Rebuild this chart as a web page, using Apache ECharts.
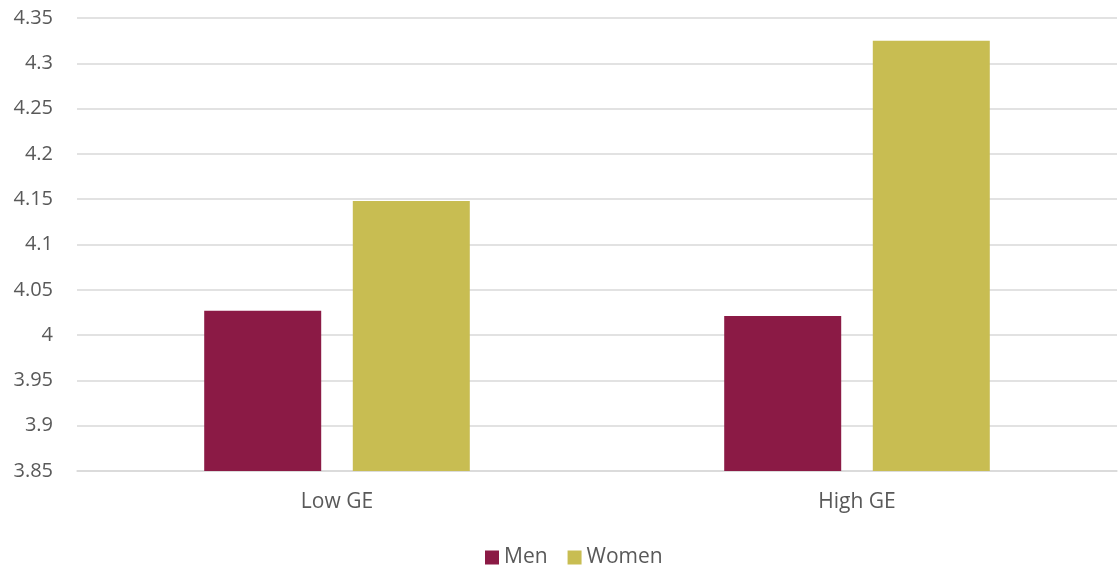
<!DOCTYPE html>
<html>
<head>
<meta charset="utf-8">
<script src="https://cdn.jsdelivr.net/npm/echarts@6/dist/echarts.min.js"></script>
<style>
  html, body { margin: 0; padding: 0; background: #fff; }
  #main { width: 1119px; height: 569px; }
</style>
</head>
<body>
<div id="main"></div>
<script>
const categories = ["Low GE", "High GE"];
const menValues = [4.027, 4.021];
const womenValues = [4.148, 4.325];

const chart = echarts.init(document.getElementById("main"), null, { renderer: "canvas" });

const option = {
  animation: false,
  textStyle: { fontFamily: "Open Sans, Noto Sans, sans-serif" },
  grid: { left: 77, right: 2, top: 18, bottom: 98, containLabel: false },
  legend: {
    top: 547,
    left: 485,
    padding: 0,
    itemWidth: 14,
    itemHeight: 14,
    itemGap: 20,
    itemTextGap: 6,
    icon: "rect",
    textStyle: { color: "#595959", fontSize: 21 },
    data: ["Men", "Women"]
  },
  xAxis: {
    type: "category",
    data: categories,
    axisTick: { show: false },
    axisLine: { lineStyle: { color: "#d9d9d9", width: 1.5 } },
    axisLabel: { color: "#595959", fontSize: 21, margin: 21 }
  },
  yAxis: {
    type: "value",
    min: 3.85,
    max: 4.35,
    interval: 0.05,
    axisLine: { show: false },
    axisTick: { show: false },
    splitLine: { lineStyle: { color: "#d9d9d9", width: 1.5 } },
    axisLabel: {
      color: "#595959",
      fontSize: 20,
      margin: 24,
      formatter: v => String(parseFloat(v.toFixed(2)))
    }
  },
  series: [
    {
      name: "Men",
      type: "bar",
      data: menValues,
      barWidth: 117,
      barGap: "27%",
      itemStyle: { color: "#8b1a45" }
    },
    {
      name: "Women",
      type: "bar",
      data: womenValues,
      barWidth: 117,
      itemStyle: { color: "#c8bd52" }
    }
  ]
};

chart.setOption(option);
</script>
</body>
</html>
